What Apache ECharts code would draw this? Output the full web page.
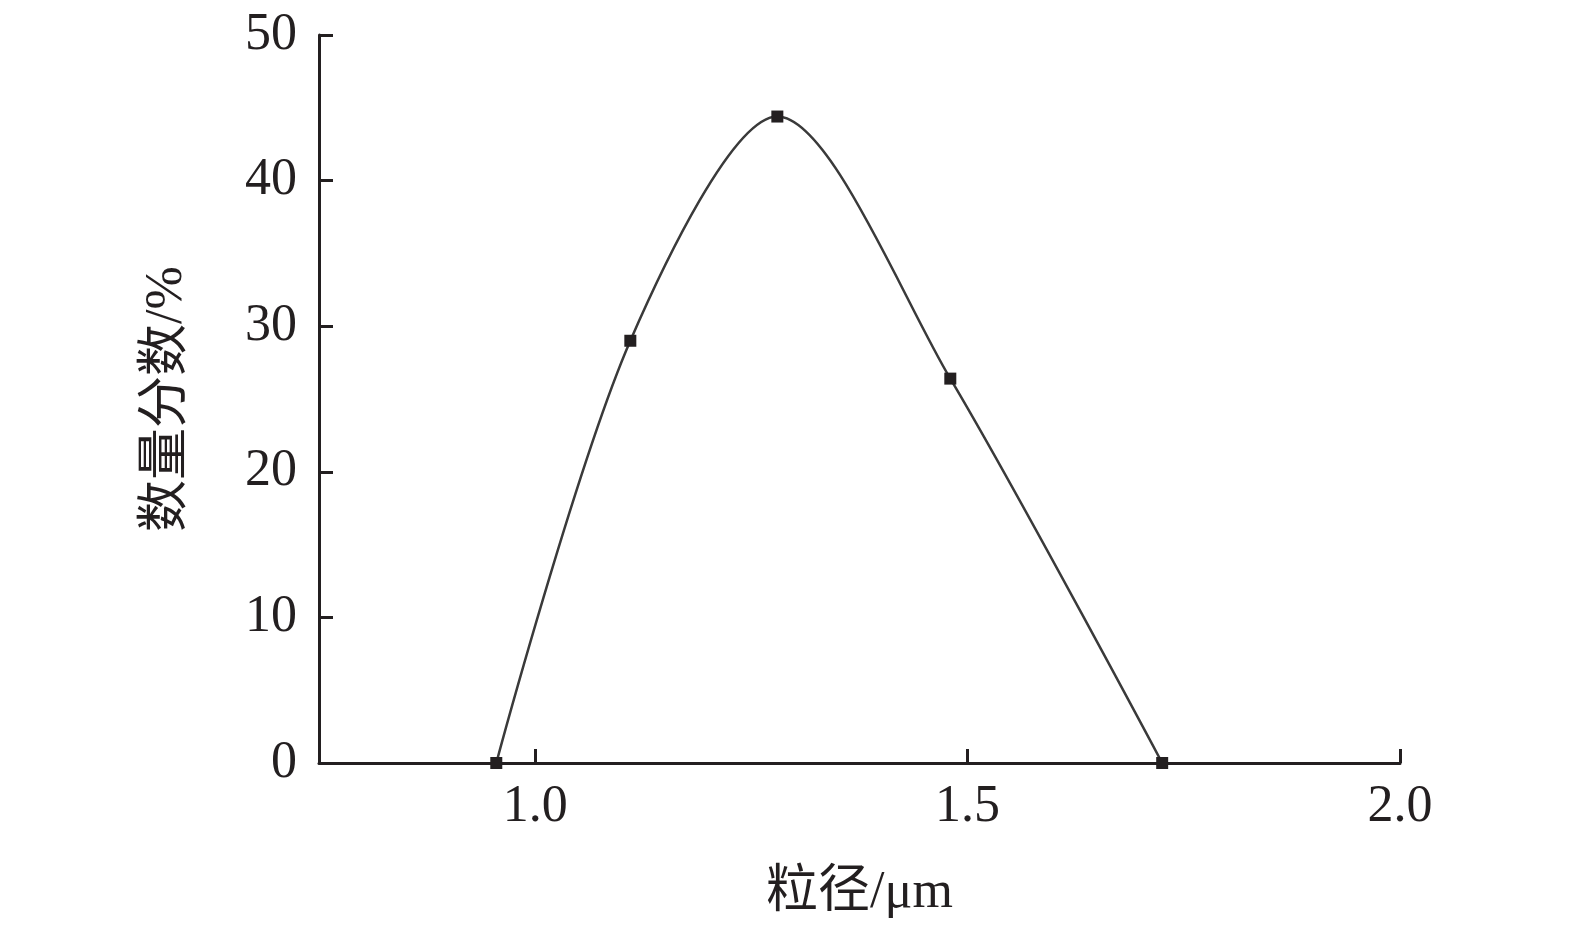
<!DOCTYPE html>
<html>
<head>
<meta charset="utf-8">
<script src="https://cdn.jsdelivr.net/npm/echarts@6/dist/echarts.min.js"></script>
<style>html,body{margin:0;padding:0;background:#fff;}#c{width:1575px;height:933px;}</style>
</head>
<body>
<div id="c"></div>
<script>
var sizes = [0.955, 1.11, 1.28, 1.48, 1.725];
var fractions = [0, 29.0, 44.4, 26.4, 0];
var xTicks = [1.0, 1.5, 2.0];
var xName = '粒径/μm';
var yName = '数量分数/%';

var serif = '"Liberation Serif", "Times New Roman", "Noto Sans CJK SC", serif';
var data = sizes.map(function (s, i) { return [s, fractions[i]]; });
var chart = echarts.init(document.getElementById('c'));
chart.setOption({
  backgroundColor: '#fff',
  animation: false,
  grid: { left: 319, right: 175, top: 35, bottom: 170 },
  xAxis: {
    type: 'value', min: 0.75, max: 2.0,
    name: xName, nameLocation: 'middle', nameGap: 104,
    nameTextStyle: { fontFamily: serif, fontSize: 52, color: '#231f20' },
    axisLine: { show: true, lineStyle: { color: '#231f20', width: 3 } },
    axisTick: { show: true, inside: true, length: 14, customValues: xTicks, lineStyle: { color: '#231f20', width: 3 } },
    axisLabel: { customValues: xTicks, margin: 18, fontFamily: serif, fontSize: 52, color: '#231f20',
      formatter: function (v) { return v.toFixed(1); } },
    splitLine: { show: false }
  },
  yAxis: {
    type: 'value', min: 0, max: 50, interval: 10,
    name: yName, nameLocation: 'middle', nameGap: 126, nameRotate: 90,
    nameTextStyle: { fontFamily: serif, fontSize: 52, color: '#231f20' },
    axisLine: { show: true, lineStyle: { color: '#231f20', width: 3 } },
    axisTick: { show: true, inside: true, length: 14, lineStyle: { color: '#231f20', width: 3 } },
    axisLabel: { margin: 22, fontFamily: serif, fontSize: 52, color: '#231f20' },
    splitLine: { show: false }
  },
  series: [{
    type: 'line', data: data, smooth: 0.3,
    symbol: 'rect', symbolSize: 12,
    itemStyle: { color: '#231f20' },
    lineStyle: { color: '#3a3a3a', width: 2.5 }
  }]
});
</script>
</body>
</html>
